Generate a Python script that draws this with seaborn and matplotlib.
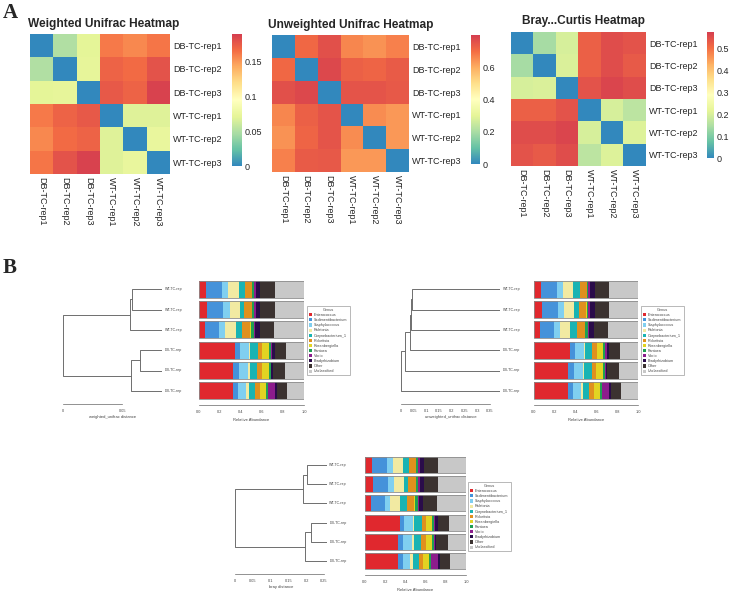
import matplotlib
matplotlib.use("Agg")
import matplotlib.pyplot as plt
import seaborn as sns
import numpy as np
import pandas as pd
from matplotlib.colors import LinearSegmentedColormap
from matplotlib.patches import Patch

# ---- data -------------------------------------------------------------
samples = ["DB-TC-rep1", "DB-TC-rep2", "DB-TC-rep3",
           "WT-TC-rep1", "WT-TC-rep2", "WT-TC-rep3"]

weighted = [
    [0.000, 0.050, 0.070, 0.160, 0.155, 0.162],
    [0.050, 0.000, 0.072, 0.170, 0.166, 0.178],
    [0.070, 0.072, 0.000, 0.175, 0.170, 0.186],
    [0.160, 0.170, 0.175, 0.000, 0.068, 0.068],
    [0.155, 0.166, 0.170, 0.068, 0.000, 0.074],
    [0.162, 0.178, 0.186, 0.068, 0.074, 0.000],
]
unweighted = [
    [0.000, 0.710, 0.760, 0.660, 0.640, 0.670],
    [0.710, 0.000, 0.775, 0.725, 0.715, 0.735],
    [0.760, 0.775, 0.000, 0.750, 0.750, 0.740],
    [0.660, 0.725, 0.750, 0.000, 0.650, 0.630],
    [0.640, 0.715, 0.750, 0.650, 0.000, 0.630],
    [0.670, 0.735, 0.740, 0.630, 0.630, 0.000],
]
bray = [
    [0.000, 0.140, 0.195, 0.520, 0.550, 0.540],
    [0.140, 0.000, 0.200, 0.520, 0.550, 0.530],
    [0.195, 0.200, 0.000, 0.540, 0.560, 0.550],
    [0.520, 0.520, 0.540, 0.000, 0.195, 0.165],
    [0.550, 0.550, 0.560, 0.195, 0.000, 0.205],
    [0.540, 0.530, 0.550, 0.165, 0.205, 0.000],
]
heat_vmax = [0.1886, 0.798, 0.573]
heat_ticks = [[0, 0.05, 0.1, 0.15], [0, 0.2, 0.4, 0.6], [0, 0.1, 0.2, 0.3, 0.4, 0.5]]
heat_titles = ["Weighted Unifrac Heatmap", "Unweighted Unifrac Heatmap",
               "Bray...Curtis Heatmap"]

genera = ["Enterococcus", "Sedimentibacterium", "Staphylococcus", "Ralstonia",
          "Corynebacterium_1", "Rickettsia", "Rosenbergiella", "Pantoea",
          "Vibrio", "Bradyrhizobium", "Other", "Unclassified"]
genus_colors = ["#E0282E", "#4592DA", "#80CFF0", "#F2EAA2", "#19B3B3", "#E0901E",
                "#E2D322", "#1FA052", "#8C1C8C", "#2A0C4A", "#3B3230", "#C8C8C8"]

tree_labels = ["WT-TC-rep", "WT-TC-rep", "WT-TC-rep",
               "DB-TC-rep", "DB-TC-rep", "DB-TC-rep"]
wt_rep_a = [0.070, 0.152, 0.054, 0.102, 0.060, 0.067, 0.004, 0.015, 0.019, 0.041, 0.140, 0.276]
wt_rep_b = [0.079, 0.150, 0.063, 0.095, 0.042, 0.073, 0.004, 0.018, 0.016, 0.044, 0.137, 0.279]
wt_rep_c = [0.060, 0.134, 0.054, 0.101, 0.064, 0.073, 0.005, 0.030, 0.009, 0.048, 0.136, 0.286]
db_rep_a = [0.346, 0.044, 0.086, 0.014, 0.072, 0.041, 0.060, 0.020, 0.015, 0.026, 0.105, 0.171]
db_rep_b = [0.327, 0.054, 0.089, 0.013, 0.073, 0.044, 0.063, 0.020, 0.007, 0.015, 0.114, 0.181]
db_rep_c = [0.327, 0.048, 0.075, 0.023, 0.060, 0.045, 0.057, 0.022, 0.063, 0.020, 0.101, 0.159]

# merges: (child a, child b, node depth from root); leaves 0-5 top to bottom
weighted_tree = [(0, 1, 0.0579), (6, 2, 0.0565), (3, 4, 0.0648), (8, 5, 0.0573), (7, 9, 0.0)]
weighted_tip = 0.083
unweighted_tree = [(0, 1, 0.045), (6, 2, 0.039), (7, 3, 0.035), (8, 4, 0.0145), (9, 5, 0.0)]
unweighted_tip = 0.389
bray_tree = [(0, 1, 0.201), (6, 2, 0.190), (3, 4, 0.213), (8, 5, 0.197), (7, 9, 0.0)]
bray_tip = 0.2576

# ---- style ------------------------------------------------------------
sns.set_style("white")
plt.rcParams["font.family"] = ["Liberation Sans", "DejaVu Sans"]

W, H = 730, 591
fig = plt.figure(figsize=(W / 100, H / 100), dpi=100)


def px_axes(x0, y0, x1, y1):
    return fig.add_axes([x0 / W, 1 - y1 / H, (x1 - x0) / W, (y1 - y0) / H])


spectral = ["#3288BD", "#66C2A5", "#ABDDA4", "#E6F598", "#FFFFBF",
            "#FEE08B", "#FDAE61", "#F46D43", "#D53E4F"]
cmap = LinearSegmentedColormap.from_list("spec", spectral)

# ---- panel A: heatmaps ------------------------------------------------
grid_boxes = [(30, 34, 170, 174), (272, 35, 409, 172), (511, 32, 646, 166)]
cbar_boxes = [(232, 34, 242, 166), (471, 35, 480, 164), (707, 32, 714, 158)]
title_pos = [(28, 24), (268, 25), (522, 21)]

for mat, vmax, ticks, title, gb, cb, tp in zip(
        [weighted, unweighted, bray], heat_vmax, heat_ticks, heat_titles,
        grid_boxes, cbar_boxes, title_pos):
    ax = px_axes(*gb)
    cax = px_axes(*cb)
    df = pd.DataFrame(mat, index=samples, columns=samples)
    sns.heatmap(df, cmap=cmap, vmin=0, vmax=vmax, ax=ax, cbar_ax=cax,
                cbar_kws={"ticks": ticks}, linewidths=0)
    ax.yaxis.tick_right()
    ax.tick_params(axis="y", length=0, pad=2, labelsize=6.5, labelrotation=0)
    ax.tick_params(axis="x", length=0, pad=2, labelsize=6.5)
    ax.set_xticklabels(samples, rotation=270, ha="center", va="top")
    ax.set_xlabel("")
    ax.set_ylabel("")
    cbar = ax.collections[0].colorbar
    cbar.outline.set_visible(False)
    cbar.set_ticklabels([f"{t:g}" for t in ticks])
    cax.tick_params(length=0, pad=2, labelsize=6.5)
    fig.text(tp[0] / W, 1 - tp[1] / H, title, fontsize=8.6, fontweight="bold",
             ha="left", va="center")

fig.text(3 / W, 1 - 12.5 / H, "A", fontsize=15, fontweight="bold",
         family="Liberation Serif", ha="left", va="center")
fig.text(3 / W, 1 - 268 / H, "B", fontsize=15, fontweight="bold",
         family="Liberation Serif", ha="left", va="center")

# ---- panel B: trees and stacked bars ---------------------------------
abund = np.array([wt_rep_a, wt_rep_b, wt_rep_c, db_rep_a, db_rep_b, db_rep_c])


def draw_tree(ax, merges, tip, ticks, xlabel):
    ys = {i: i for i in range(6)}
    xs = {i: tip for i in range(6)}
    lc = "#6E6E6E"
    for k, (a, b, d) in enumerate(merges):
        n = 6 + k
        ax.plot([d, d], [ys[a], ys[b]], color=lc, lw=0.7, solid_capstyle="butt")
        ax.plot([d, xs[a]], [ys[a], ys[a]], color=lc, lw=0.7)
        ax.plot([d, xs[b]], [ys[b], ys[b]], color=lc, lw=0.7)
        ys[n] = (ys[a] + ys[b]) / 2
        xs[n] = d
    for i, lab in enumerate(tree_labels):
        ax.text(tip * 1.03, i, lab, fontsize=2.6, ha="left", va="center",
                color="#444444")
    ax.set_xlim(0, tip)
    ax.set_ylim(5.5, -0.5)
    sns.despine(ax=ax, left=True, top=True, right=True)
    ax.spines["bottom"].set_position(("outward", 2.2))
    ax.spines["bottom"].set_bounds(ticks[0], ticks[-1])
    ax.spines["bottom"].set_color("#666666")
    ax.spines["bottom"].set_linewidth(0.5)
    ax.set_xticks(ticks)
    ax.set_xticklabels([f"{t:g}" for t in ticks])
    ax.set_yticks([])
    ax.tick_params(axis="x", length=2, width=0.5, pad=1.5, labelsize=2.8,
                   color="#666666", labelcolor="#444444")
    ax.set_xlabel(xlabel, fontsize=3, labelpad=1.5, color="#444444")
    ax.patch.set_alpha(0)


def draw_bars(ax):
    left = np.zeros(len(abund))
    rows = np.arange(len(abund))
    for j, g in enumerate(genera):
        ax.barh(rows, abund[:, j], left=left, height=0.84,
                color=genus_colors[j], linewidth=0)
        left = left + abund[:, j]
    ax.barh(rows, left, height=0.84, fill=False, edgecolor="#8C8C8C",
            linewidth=0.6)
    ax.set_xlim(0, 1)
    ax.set_ylim(5.5, -0.5)
    sns.despine(ax=ax, left=True, top=True, right=True)
    ax.spines["bottom"].set_position(("outward", 3))
    ax.spines["bottom"].set_color("#666666")
    ax.spines["bottom"].set_linewidth(0.5)
    ax.set_xticks(np.linspace(0, 1, 6))
    ax.set_xticklabels([f"{t:.1f}" for t in np.linspace(0, 1, 6)])
    ax.set_yticks([])
    ax.tick_params(axis="x", length=2, width=0.5, pad=1.5, labelsize=2.8,
                   color="#666666", labelcolor="#444444")
    ax.set_xlabel("Relative Abundance", fontsize=3, labelpad=3, color="#444444")
    ax.patch.set_alpha(0)


handles = [Patch(facecolor=c, edgecolor="none", label=g)
           for g, c in zip(genera, genus_colors)]

panels = [
    (weighted_tree, weighted_tip, [0, 0.05], "weighted_unifrac distance",
     (62.7, 279, 161.7, 401), (199, 279, 304, 401), (307, 306)),
    (unweighted_tree, unweighted_tip, [0, 0.05, 0.1, 0.15, 0.2, 0.25, 0.3, 0.35],
     "unweighted_unifrac distance",
     (401, 279, 500, 401), (534, 279, 638, 401), (641, 306)),
    (bray_tree, bray_tip, [0, 0.05, 0.1, 0.15, 0.2, 0.25], "bray distance",
     (235, 455.4, 326.7, 570.6), (365, 455.4, 466, 570.6), (468, 482)),
]

for merges, tip, ticks, xlabel, tbox, bbox, lpos in panels:
    tax = px_axes(*tbox)
    draw_tree(tax, merges, tip, ticks, xlabel)
    bax = px_axes(*bbox)
    draw_bars(bax)
    leg = fig.legend(handles=handles, title="Genus", loc="upper left",
                     bbox_to_anchor=(lpos[0] / W, 1 - lpos[1] / H),
                     fontsize=2.7, title_fontsize=2.7, frameon=True,
                     fancybox=False, handlelength=0.9, handleheight=0.9,
                     handletextpad=0.5, labelspacing=0.3, borderpad=0.5,
                     borderaxespad=0)
    leg.get_frame().set_edgecolor("#999999")
    leg.get_frame().set_linewidth(0.6)
    for t in leg.get_texts():
        t.set_color("#444444")
    leg.get_title().set_color("#444444")

fig.savefig("out.png", dpi=100)
